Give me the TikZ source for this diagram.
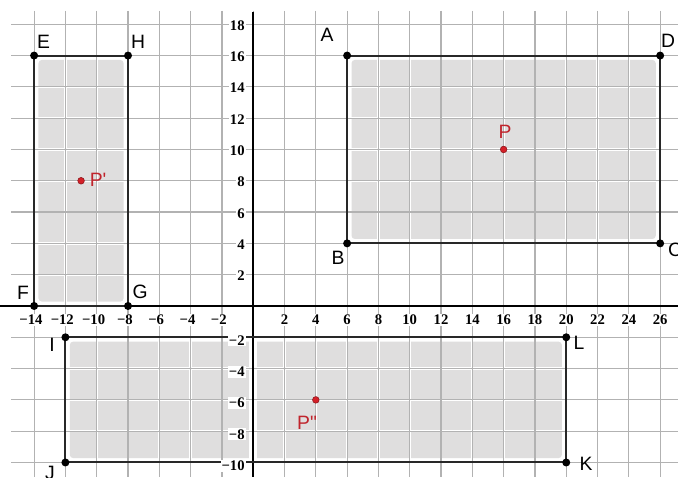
\documentclass[tikz,border=0pt]{standalone}
\usepackage{fontspec}
\setmainfont{Liberation Serif}
\setsansfont{Liberation Sans}

\definecolor{shadegray}{RGB}{223,222,222}
\definecolor{gridgray}{RGB}{178,178,178}
\definecolor{edgegray}{RGB}{40,40,40}
\definecolor{ptred}{RGB}{212,32,40}
\definecolor{labred}{RGB}{192,36,44}

\tikzset{every picture/.style={line width=0.75pt}}

\begin{document}
\begin{tikzpicture}[x=11.7375pt,y=11.7375pt,
  gridline/.style={draw=gridgray, line width=0.9pt},
  halo/.style={draw=white, line width=1.7pt},
  shadebox/.style={fill=shadegray, rounded corners=2.5pt},
  rectside/.style={draw=edgegray, line width=1.5pt, line join=miter},
  ptlabel/.style={font=\sffamily\fontsize{14.5}{16}\selectfont, inner sep=0pt},
  redlabel/.style={ptlabel, text=labred},
  ticklab/.style={font=\bfseries\fontsize{11}{12}\selectfont, fill=white, inner sep=0.8pt},
  redpt/.style={circle, fill=ptred, draw=ptred!65!black, line width=0.4pt, inner sep=0pt, minimum size=5pt}]
%set diagram size: 678 x 477
\useasboundingbox (-16.18,-10.93) rectangle (27.14,19.55);
\fill[white] (-16.18,-10.93) rectangle (27.14,19.55);

%Corners of the three rectangles
\coordinate (A) at (6,16);
\coordinate (B) at (6,4);
\coordinate (C) at (26,4);
\coordinate (D) at (26,16);
\coordinate (E) at (-14,16);
\coordinate (F) at (-14,0);
\coordinate (G) at (-8,0);
\coordinate (H) at (-8,16);
\coordinate (I) at (-12,-2);
\coordinate (J) at (-12,-10);
\coordinate (K) at (20,-10);
\coordinate (L) at (20,-2);

%Shaded interiors
\fill[shadebox] (-13.72,0.28) rectangle (-8.28,15.72);
\fill[shadebox] (6.28,4.28) rectangle (25.72,15.72);
\fill[shadebox] (-11.72,-9.72) rectangle (19.72,-2.28);
\fill[white] (-0.3,-9.8) rectangle (0.25,-2.2);

%Grid
\foreach \gx in {-14,-12,...,26} {\draw[halo] (\gx,18.85) -- (\gx,-10.93);}
\foreach \gy in {-10,-8,...,18} {\draw[halo] (-15.45,\gy) -- (27.14,\gy);}
\foreach \gx in {-14,-12,...,26} {\draw[gridline] (\gx,18.85) -- (\gx,-10.93);}
\foreach \gy in {-10,-8,...,18} {\draw[gridline] (-15.45,\gy) -- (27.14,\gy);}

%Axes
\draw[line width=1.1pt] (-16.18,0) -- (27.14,0);
\draw[line width=1.1pt] (0,18.81) -- (0,-10.93);

%Rectangles
\draw[rectside] (A) -- (B) -- (C) -- (D) -- cycle;
\draw[rectside] (E) -- (F) -- (G) -- (H) -- cycle;
\draw[rectside] (I) -- (J) -- (K) -- (L) -- cycle;

%Tick labels
\foreach \tx in {2,4,...,26} {\node[ticklab] at (\tx,-0.9) {\tx};}
\foreach \tx in {2,4,...,14} {\node[ticklab] at (-\tx-0.2,-0.9) {−\tx};}
\foreach \ty in {2,4,...,18} {\node[ticklab, anchor=east] at (-0.45,\ty-0.08) {\ty};}
\foreach \ty in {2,4,...,10} {\node[ticklab, anchor=east] at (-0.45,-\ty-0.2) {−\ty};}

%Vertices
\foreach \v in {A,B,C,D,E,F,G,H,I,J,K,L} {\fill (\v) circle (3pt);}

%Vertex labels
\node[ptlabel] (labA) at (4.72,17.32) {A};
\node[ptlabel] (labB) at (5.42,3.07) {B};
\node[ptlabel] (labC) at (26.95,3.58) {C};
\node[ptlabel] (labD) at (26.5,16.93) {D};
\node[ptlabel] (labE) at (-13.4,16.87) {E};
\node[ptlabel] (labF) at (-14.71,0.83) {F};
\node[ptlabel] (labG) at (-7.23,0.89) {G};
\node[ptlabel] (labH) at (-7.36,16.87) {H};
\node[ptlabel] (labI) at (-12.86,-2.49) {I};
\node[ptlabel] (labJ) at (-12.98,-10.67) {J};
\node[ptlabel] (labK) at (21.27,-10.1) {K};
\node[ptlabel] (labL) at (20.82,-2.36) {L};

%Images of P
\node[redpt] (P) at (16,10) {};
\node[redpt] (P1) at (-11,8) {};
\node[redpt] (P2) at (4,-6) {};
\node[redlabel] (labP) at (16.09,11.12) {P};
\node[redlabel] (labP1) at (-9.91,8.05) {P\textquotesingle};
\node[redlabel] (labP2) at (3.44,-7.48) {P\textquotedbl};

\end{tikzpicture}
\end{document}
